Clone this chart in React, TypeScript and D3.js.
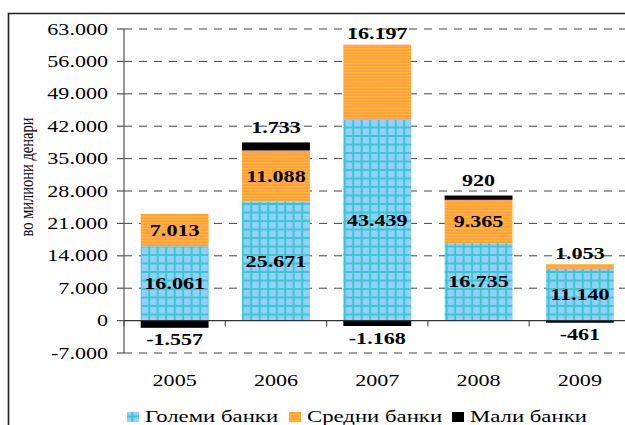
import React from 'react';
import * as d3 from 'd3';

const categories = ['2005', '2006', '2007', '2008', '2009'];
const golemi = [16061, 25671, 43439, 16735, 11140];
const sredni = [7013, 11088, 16197, 9365, 1053];
const mali = [-1557, 1733, -1168, 920, -461];
const sredniLabelAbove = [false, false, true, false, true];
const yTicks = [-7000, 0, 7000, 14000, 21000, 28000, 35000, 42000, 49000, 56000, 63000];
const seriesNames = ['Големи банки', 'Средни банки', 'Мали банки'];
const yTitle = 'во милиони денари';

const W = 625;
const H = 425;
const SX = 1.38;
const FONT = '"Liberation Serif", "Times New Roman", serif';

const locale = d3.formatLocale({ decimal: ',', thousands: '.', grouping: [3], currency: ['', ''], minus: '-' });
const fmt = locale.format(',');

function T({ x, y, children, anchor = 'middle', size = 16, weight = 'normal', rotate = false, sx = SX }: any) {
  const tr = rotate
    ? `translate(${x},${y}) rotate(-90) scale(1,${sx})`
    : `translate(${x},${y}) scale(${sx},1)`;
  return (
    <text transform={tr} textAnchor={anchor} fontFamily={FONT} fontSize={size} fontWeight={weight} fill="#000">
      {children}
    </text>
  );
}

export default function App() {
  const x = d3.scaleBand<string>().domain(categories).range([124, 630.5]).paddingInner(0.33).paddingOuter(0.165);
  const y = d3.scaleLinear().domain([-7000, 63000]).range([353, 29]);

  const rows = categories.map((c, i) => ({ cat: c, g: golemi[i], s: sredni[i], m: mali[i] }));
  const stack = d3.stack<any>().keys(['g', 's', 'm']).offset(d3.stackOffsetDiverging);
  const series = stack(rows);
  const fills = ['url(#patBlue)', 'url(#patOrange)', '#000'];
  const bw = x.bandwidth();

  return (
    <svg width={W} height={H} style={{ position: 'absolute', left: 0, top: 0, background: '#fff' }}>
      <defs>
        <pattern id="patBlue" patternUnits="userSpaceOnUse" width={8.5} height={8.5} x={140.7} y={0}>
          <rect width={8.5} height={8.5} fill="#33CCCC" />
          <rect x={1} y={1} width={6.5} height={6.5} fill="#99CCFF" />
        </pattern>
        <pattern id="patOrange" patternUnits="userSpaceOnUse" width={6} height={3}>
          <rect width={6} height={3} fill="#FF9966" />
          <rect width={6} height={1.2} fill="#FFC000" />
        </pattern>
      </defs>

      {/* frame */}
      <path d={`M8.5,${H} L8.5,13.5 L${W},13.5`} fill="none" stroke="#222" strokeWidth={1.6} />

      {/* gridlines */}
      {yTicks.filter(t => t !== 0).map(t => (
        <line key={t} x1={124} x2={W} y1={y(t)} y2={y(t)} stroke="#444" strokeWidth={1} strokeDasharray="8,7" />
      ))}

      {/* bars */}
      {series.map((s, si) => (
        <g key={si}>
          {s.map((d, i) => {
            const y0 = y(d[1]);
            const y1 = y(d[0]);
            if (Math.abs(y1 - y0) < 0.01) return null;
            return <rect key={i} x={x(categories[i])} y={Math.min(y0, y1)} width={bw} height={Math.abs(y1 - y0)} fill={fills[si]} />;
          })}
        </g>
      ))}

      {/* y axis */}
      <line x1={124} x2={124} y1={y(63000)} y2={y(-7000)} stroke="#555" strokeWidth={1.2} />
      {yTicks.map(t => (
        <g key={t}>
          <line x1={117} x2={124} y1={y(t)} y2={y(t)} stroke="#555" strokeWidth={1.2} />
          <T x={108} y={y(t) + 5.5} anchor="end">{fmt(t)}</T>
        </g>
      ))}
      {/* zero line */}
      <line x1={124} x2={W} y1={y(0)} y2={y(0)} stroke="#333" strokeWidth={1.3} />
      {d3.range(categories.length + 1).map(i => {
        const xx = 124 + i * x.step();
        return <line key={i} x1={xx} x2={xx} y1={y(0)} y2={y(0) + 6} stroke="#555" strokeWidth={1.2} />;
      })}

      {/* category labels */}
      {categories.map(c => (
        <T key={c} x={x(c)! + bw / 2} y={386}>{c}</T>
      ))}

      {/* data labels */}
      {series[0].map((d, i) => (
        <T key={'g' + i} x={x(categories[i])! + bw / 2} y={(y(d[0]) + y(d[1])) / 2 + 5.5} weight="bold">{fmt(golemi[i])}</T>
      ))}
      {series[1].map((d, i) => {
        const cy = sredniLabelAbove[i] ? y(d[1]) - 11 : (y(d[0]) + y(d[1])) / 2;
        return <T key={'s' + i} x={x(categories[i])! + bw / 2} y={cy + 5.5} weight="bold">{fmt(sredni[i])}</T>;
      })}
      {series[2].map((d, i) => {
        const v = mali[i];
        const cy = v >= 0 ? y(d[1]) - 15 : y(d[0]) + 12;
        return <T key={'m' + i} x={x(categories[i])! + bw / 2} y={cy + 5.5} weight="bold">{fmt(v)}</T>;
      })}

      {/* y title */}
      <T x={33} y={177} rotate size={14.5} sx={1.3}>{yTitle}</T>

      {/* legend */}
      {[127, 289, 452].map((lx, i) => (
        <g key={i}>
          <rect x={lx} y={412} width={12} height={10} fill={fills[i]} />
          <T x={lx + 18} y={422} anchor="start" size={16.5}>{seriesNames[i]}</T>
        </g>
      ))}
    </svg>
  );
}
